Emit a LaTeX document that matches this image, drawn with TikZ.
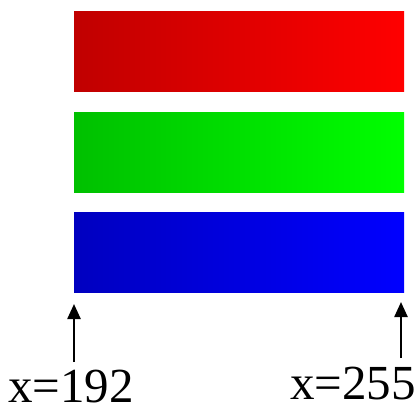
\documentclass[tikz,border=0pt]{standalone}
\usepackage{fontspec}
\setmainfont{Liberation Serif}
\usetikzlibrary{arrows.meta}
\definecolor{rlo}{RGB}{192,0,0}\definecolor{rhi}{RGB}{255,0,0}
\definecolor{glo}{RGB}{0,192,0}\definecolor{ghi}{RGB}{0,255,0}
\definecolor{blo}{RGB}{0,0,192}\definecolor{bhi}{RGB}{0,0,255}
\begin{document}
\begin{tikzpicture}[x=1pt,y=-1pt,
  bar/.style={minimum width=330pt,minimum height=80pt,inner sep=0pt,outer sep=0pt,draw=none,anchor=north west},
  lbl/.style={font=\fontsize{49}{49}\selectfont,inner sep=0pt,anchor=base},
  arr/.style={line width=2.4pt,-{Triangle[width=13pt,length=15pt]}}]
\useasboundingbox (0,0) rectangle (416,407);
\node[bar,left color=rlo,right color=rhi] (red) at (74,11) {};
\node[bar,left color=glo,right color=ghi] (green) at (74,112) {};
\node[bar,left color=blo,right color=bhi] (blue) at (74,212) {};
\node[lbl] (l1) at (71,402) {x=192};
\node[lbl] (l2) at (353,399) {x=255};
\coordinate (a1) at (74,362);
\coordinate (b1) at (74,304);
\coordinate (a2) at (401,358);
\coordinate (b2) at (401,302);
\draw[arr] (a1) -- (b1);
\draw[arr] (a2) -- (b2);
\end{tikzpicture}
\end{document}
